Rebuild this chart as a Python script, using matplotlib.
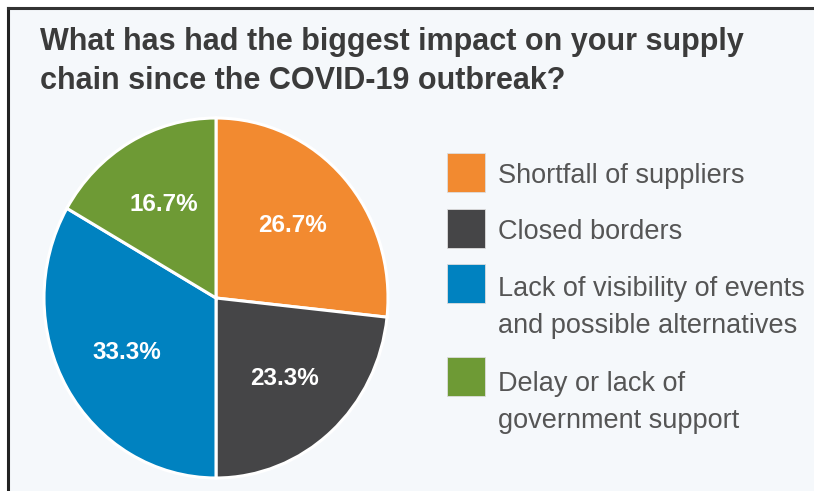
import matplotlib
matplotlib.use("Agg")
import matplotlib.pyplot as plt
from matplotlib.patches import Rectangle
from matplotlib.lines import Line2D

categories = ["Shortfall of suppliers", "Closed borders",
              "Lack of visibility of events\nand possible alternatives",
              "Delay or lack of\ngovernment support"]
values = [26.7, 23.3, 33.3, 16.7]
colors = ["#F28A30", "#454547", "#0082C0", "#6E9A35"]
title_lines = ["What has had the biggest impact on your supply",
               "chain since the COVID-19 outbreak?"]

W, H = 814, 491
fig = plt.figure(figsize=(W / 100, H / 100), dpi=100)
fig.patch.set_facecolor("white")

def fx(px):
    return px / W

def fy(py):
    return 1 - py / H

# panel background and frame
fig.add_artist(Rectangle((fx(8), 0), 1 - fx(8), fy(8), transform=fig.transFigure,
                         facecolor="#f5f8fb", edgecolor="none", zorder=0))
fig.add_artist(Line2D([fx(8), fx(8)], [0, fy(8)], transform=fig.transFigure,
                      color="#222222", lw=2.2))
fig.add_artist(Line2D([fx(8), 1], [fy(8), fy(8)], transform=fig.transFigure,
                      color="#333333", lw=2.2))

font = ["Liberation Sans", "DejaVu Sans"]

for ln, base in zip(title_lines, [50, 89]):
    fig.text(fx(40), fy(base), ln, ha="left", va="baseline", fontsize=22,
             fontweight="bold", color="#3b3b3b", family=font)

# pie
ax = fig.add_axes([fx(44), fy(478), fx(388) - fx(44), (478 - 118) / H])
wedges, texts, autotexts = ax.pie(values, colors=colors, startangle=90, counterclock=False,
                                  autopct="%.1f%%", pctdistance=0.6,
                                  wedgeprops=dict(edgecolor="white", linewidth=2.2))
for t in autotexts:
    t.set_color("white")
    t.set_fontsize(17.5)
    t.set_fontweight("bold")
    t.set_family(font)
ax.set_aspect("auto")
ax.set_xlim(-1.0, 1.0)
ax.set_ylim(-1.0, 1.0)
ax.axis("off")

# legend
sq_tops = [153, 209, 264, 357]
baselines = [[183], [239], [296, 333], [391, 428]]
for i, (lab, col) in enumerate(zip(categories, colors)):
    fig.add_artist(Rectangle((fx(447), fy(sq_tops[i] + 39)), fx(485) - fx(447), 39 / H,
                             transform=fig.transFigure, facecolor=col,
                             edgecolor="#dddddd", lw=0.6))
    for part, b in zip(lab.split("\n"), baselines[i]):
        fig.text(fx(498), fy(b), part, ha="left", va="baseline", fontsize=19.5,
                 color="#555555", family=font)

fig.savefig("out.png", dpi=100, facecolor=fig.get_facecolor())
